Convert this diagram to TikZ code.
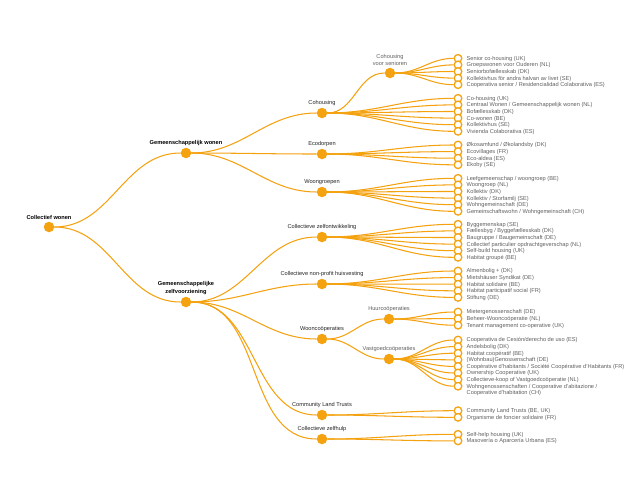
\documentclass[tikz,border=0pt]{standalone}
\usepackage{fontspec}
\setmainfont{Liberation Sans}
\usetikzlibrary{positioning,backgrounds}
\definecolor{amber}{RGB}{244,162,16}
\definecolor{leafgrey}{RGB}{95,95,95}
\definecolor{labeldark}{RGB}{35,35,35}

% parent, prefix, first y, list of leaf texts
\newcommand{\fanleaves}[4]{%
  \foreach \t [count=\i] in {#4} {
    \pgfmathsetmacro{\yy}{#3+(\i-1)*6.6}
    \node[leaf] (#2\i) at (458,\yy) {};
    \node[leaflbl] (#2\i txt) at (466.5,\yy+1.9) {\t};
    \begin{scope}[on background layer]
      \draw[link] (#1) to[out=0,in=180] (#2\i);
    \end{scope}
  }}

\begin{document}
\begin{tikzpicture}[x=1pt,y=-1pt,node distance=1.8pt,
  every node/.style={font=\fontsize{5.65}{6.6}\selectfont,inner sep=0pt},
  hub/.style={circle,fill=amber,minimum size=10.5pt},
  leaf/.style={circle,draw=amber,fill=white,line width=1.3pt,minimum size=7.6pt},
  leaflbl/.style={text=leafgrey,anchor=base west,align=left},
  sublbl/.style={text=leafgrey,align=center},
  catlbl/.style={text=labeldark,align=center},
  mainlbl/.style={text=black,align=center,font=\fontsize{5.65}{7.4}\selectfont\bfseries},
  link/.style={draw=amber,line width=1.05pt}]
\useasboundingbox (0,0) rectangle (639,501);

% tree
\node[hub] (root) at (49,227) {};
\node[mainlbl,above=of root] (rootlbl) {Collectief wonen};
\node[hub] (gw) at (186,153) {};
\node[mainlbl,above=of gw] (gwlbl) {Gemeenschappelijk wonen};
\node[hub] (gz) at (186,302) {};
\node[mainlbl,above=of gz] (gzlbl) {Gemeenschappelijke\\zelfvoorziening};

\node[hub] (coh) at (322,113) {};
\node[catlbl,above=of coh] (cohlbl) {Cohousing};
\node[hub] (eco) at (322,154) {};
\node[catlbl,above=of eco] (ecolbl) {Ecodorpen};
\node[hub] (woo) at (322,192) {};
\node[catlbl,above=of woo] (woolbl) {Woongroepen};
\node[hub] (zel) at (322,237) {};
\node[catlbl,above=of zel] (zellbl) {Collectieve zelfontwikkeling};
\node[hub] (npf) at (322,284) {};
\node[catlbl,above=of npf] (npflbl) {Collectieve non-profit huisvesting};
\node[hub] (wco) at (322,339) {};
\node[catlbl,above=of wco] (wcolbl) {Wooncoöperaties};
\node[hub] (clt) at (322,415) {};
\node[catlbl,above=of clt] (cltlbl) {Community Land Trusts};
\node[hub] (hlp) at (322,439) {};
\node[catlbl,above=of hlp] (hlplbl) {Collectieve zelfhulp};

\node[hub] (sen) at (390,73) {};
\node[sublbl,above=of sen] (senlbl) {Cohousing\\voor senioren};
\node[hub] (huu) at (389,319) {};
\node[sublbl,above=of huu] (huulbl) {Huurcoöperaties};
\node[hub] (vas) at (389,359) {};
\node[sublbl,above=of vas] (vaslbl) {Vastgoedcoöperaties};

\begin{scope}[on background layer]
\draw[link] (root) to[out=0,in=180] (gw);
\draw[link] (root) to[out=0,in=180] (gz);
\foreach \c in {coh,eco,woo} \draw[link] (gw) to[out=0,in=180] (\c);
\foreach \c in {zel,npf,wco,clt,hlp} \draw[link] (gz) to[out=0,in=180] (\c);
\draw[link] (coh) to[out=0,in=180] (sen);
\draw[link] (wco) to[out=0,in=180] (huu);
\draw[link] (wco) to[out=0,in=180] (vas);
\end{scope}

% leaves
\fanleaves{sen}{s}{58.3}{Senior co-housing (UK),Groepswonen voor Ouderen (NL),Seniorbofællesskab (DK),Kollektivhus för andra halvan av livet (SE),Cooperativa senior / Residencialidad Colaborativa (ES)}
\fanleaves{coh}{c}{98.3}{Co-housing (UK),Centraal Wonen / Gemeenschappelijk wonen (NL),Bofællesskab (DK),Co-wonen (BE),Kollektivhus (SE),Vivienda Colaborativa (ES)}
\fanleaves{eco}{e}{145}{Økosamfund / Økolandsby (DK),Ecovillages (FR),Eco-aldea (ES),Ekoby (SE)}
\fanleaves{woo}{w}{178.3}{Leefgemeenschap / woongroep (BE),Woongroep (NL),Kollektiv (DK),Kollektiv / Storfamilj (SE),Wohngemeinschaft (DE),Gemeinschaftswohn / Wohngemeinschaft (CH)}
\fanleaves{zel}{z}{224.3}{Byggemenskap (SE),Fællesbyg / Byggefællesskab (DK),Baugruppe / Baugemeinschaft (DE),Collectief particulier opdrachtgeverschap (NL),Self-build housing (UK),Habitat groupé (BE)}
\fanleaves{npf}{n}{271}{Almenbolig + (DK),Mietshäuser Syndikat (DE),Habitat solidaire (BE),Habitat participatif social (FR),Stiftung (DE)}
\fanleaves{huu}{h}{312}{Mietergenossenschaft (DE),Beheer-Wooncoöperatie (NL),Tenant management co-operative (UK)}
\fanleaves{vas}{v}{340}{Cooperativa de Cesión/derecho de uso (ES),Andelsbolig (DK),Habitat coopératif (BE),(Wohnbau)Genossenschaft (DE),Coopérative d'habitants / Société Coopérative d'Habitants (FR),Ownership Cooperative (UK),Collectieve-koop of Vastgoedcoöperatie (NL)}
\node[leaf] (v8) at (458,386.2) {};
\node[leaflbl,anchor=north west] (v8txt) at (466.5,383.8) {Wohngenossenschaften / Cooperative d'abitazione /\\Cooperative d'habitation (CH)};
\begin{scope}[on background layer]
\draw[link] (vas) to[out=0,in=180] (v8);
\end{scope}
\fanleaves{clt}{l}{410.7}{{Community Land Trusts (BE, UK)},Organisme de foncier solidaire (FR)}
\fanleaves{hlp}{p}{434.3}{Self-help housing (UK),Masovería o Aparcería Urbana (ES)}
\end{tikzpicture}
\end{document}
